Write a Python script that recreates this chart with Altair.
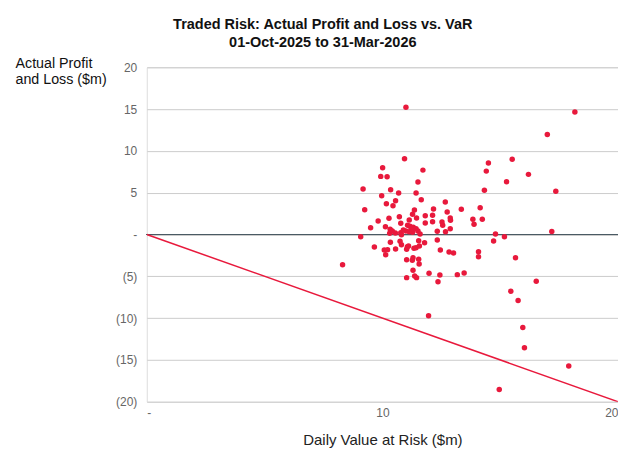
import altair as alt
import pandas as pd

# Daily VaR ($m) and actual P&L ($m)
var_m = [11.00, 18.17, 17.00, 10.94, 15.51, 14.50, 14.41, 16.20, 15.27, 14.33,
         17.36, 10.01, 11.72, 9.93, 10.20, 11.51, 9.18, 10.35, 10.69, 11.43,
         9.97, 11.65, 10.56, 10.17, 10.45, 12.67, 9.25, 11.36, 12.17, 12.75,
         13.35, 14.15, 11.28, 11.82, 12.13, 11.45, 10.28, 9.82, 12.88, 12.89,
         10.78, 11.82, 12.53, 12.56, 13.84, 13.89, 14.24, 9.50, 10.13, 11.07,
         11.17, 11.31, 11.43, 10.33, 10.37, 10.31, 10.78, 10.81, 11.00, 11.14,
         11.28, 11.51, 11.60, 12.33, 12.68, 12.88, 14.80, 15.18, 17.19, 9.08,
         9.66, 10.34, 10.75, 10.81, 10.08, 10.22, 10.14, 10.56, 11.06, 11.03,
         11.34, 11.43, 11.57, 11.54, 11.79, 12.33, 12.46, 12.83, 13.02, 8.31,
         11.03, 11.30, 11.27, 11.54, 11.56, 11.30, 11.98, 11.37, 11.45, 11.03,
         12.44, 13.18, 12.36, 11.96, 14.72, 14.08, 14.08, 15.65, 13.47, 16.53,
         15.45, 15.76, 15.96, 16.03, 17.91, 14.96, 10.42, 10.55, 10.89, 11.23,
         10.72, 12.13, 11.14, 11.11]
pnl_m = [15.22, 14.66, 11.96, 9.05, 9.01, 8.54, 7.58, 7.19, 6.30, 5.28,
         5.16, 7.98, 7.70, 6.95, 6.90, 6.27, 5.43, 5.35, 4.96, 4.96,
         4.63, 4.16, 4.04, 3.68, 3.44, 3.88, 2.96, 2.93, 3.04, 2.69,
         3.01, 3.20, 2.41, 2.24, 2.29, 1.97, 1.93, 1.61, 1.97, 1.70,
         1.34, 1.37, 1.49, 1.10, 1.81, 1.22, 1.81, 0.81, 0.93, 1.10,
         0.98, 0.86, 0.69, 0.62, 0.42, 0.14, 0.21, -0.02, 0.42, 0.33,
         0.26, 0.42, 0.06, 0.38, 0.33, 0.69, 0.06, -0.26, 0.36, -0.26,
         -1.49, -0.93, -0.81, -1.22, -1.85, -1.81, -2.41, -1.73, -1.46, -1.77,
         -1.65, -1.58, -1.37, -0.74, -0.98, -0.66, -1.85, -2.09, -2.21, -3.61,
         -3.01, -2.77, -3.08, -2.96, -3.52, -4.27, -4.63, -4.96, -5.16, -5.16,
         -4.84, -4.80, -5.64, -9.73, -0.78, -2.05, -2.65, -2.77, -4.60, -5.59,
         -6.78, -7.90, -11.13, -13.55, -15.74, -18.53, 0.42, 0.18, 0.54, 0.66,
         2.13, 1.53, 1.73, -1.37]

# Loss = -VaR reference line
line_var = [0, 20]
line_pnl = [0, -20]

y_ticks = [-20, -15, -10, -5, 0, 5, 10, 15, 20]
x_ticks = [0, 10, 20]

RED = "#E8193C"
FONT = "Liberation Sans"

pts = pd.DataFrame({"var": var_m, "pnl": pnl_m})
ref = pd.DataFrame({"var": line_var, "pnl": line_pnl})

label_expr = "datum.value == 0 ? '-' : (datum.value < 0 ? '(' + format(-datum.value, 'd') + ')' : format(datum.value, 'd'))"

x_scale = alt.Scale(domain=[0, 20], nice=False)
y_scale = alt.Scale(domain=[-20, 20], nice=False)

x_enc = alt.X("var:Q", scale=x_scale,
              axis=alt.Axis(title="Daily Value at Risk ($m)", values=x_ticks,
                            labelExpr=label_expr, grid=False, domain=False, ticks=False,
                            labelFlush=True, labelPadding=6, titlePadding=14,
                            labelFont=FONT, labelFontSize=12, labelColor="#666666",
                            titleFont=FONT, titleFontSize=15, titleFontWeight="normal",
                            titleColor="#222222"))
y_enc = alt.Y("pnl:Q", scale=y_scale,
              axis=alt.Axis(title=["Actual Profit", "and Loss ($m)"], values=y_ticks,
                            labelExpr=label_expr, grid=True, gridColor="#cccccc",
                            gridWidth=1, domain=False, ticks=False, labelPadding=10,
                            labelFlush=False,
                            labelFont=FONT, labelFontSize=12, labelColor="#666666",
                            titleAngle=0, titleAlign="left", titleBaseline="alphabetic",
                            titleX=-132, titleY=0, titleFont=FONT, titleFontSize=14.3,
                            titleFontWeight="normal", titleColor="#111111",
                            titleLineHeight=16))

zero = alt.Chart(pts).mark_rule(color="#4A5A64", strokeWidth=1.2).encode(y=alt.datum(0))

diag = alt.Chart(ref).mark_line(color=RED, strokeWidth=1.5, clip=True).encode(x=x_enc, y=y_enc)

dots = alt.Chart(pts).mark_circle(color=RED, size=30, opacity=1).encode(x=x_enc, y=y_enc)

chart = alt.layer(zero, diag, dots).properties(
    width=472,
    height=335,
    title=alt.TitleParams(
        text=["Traded Risk: Actual Profit and Loss vs. VaR", "01-Oct-2025 to 31-Mar-2026"],
        font=FONT, fontSize=14.5, fontWeight="bold", color="#111111",
        anchor="middle", frame="bounds", lineHeight=18, offset=6, dx=6),
    autosize=alt.AutoSizeParams(type="none"),
    padding={"left": 139, "top": 59, "right": 0, "bottom": 50},
).configure_view(stroke=None).configure(background="white")

chart.save("out.html", embed_options={"renderer": "svg", "actions": False})
